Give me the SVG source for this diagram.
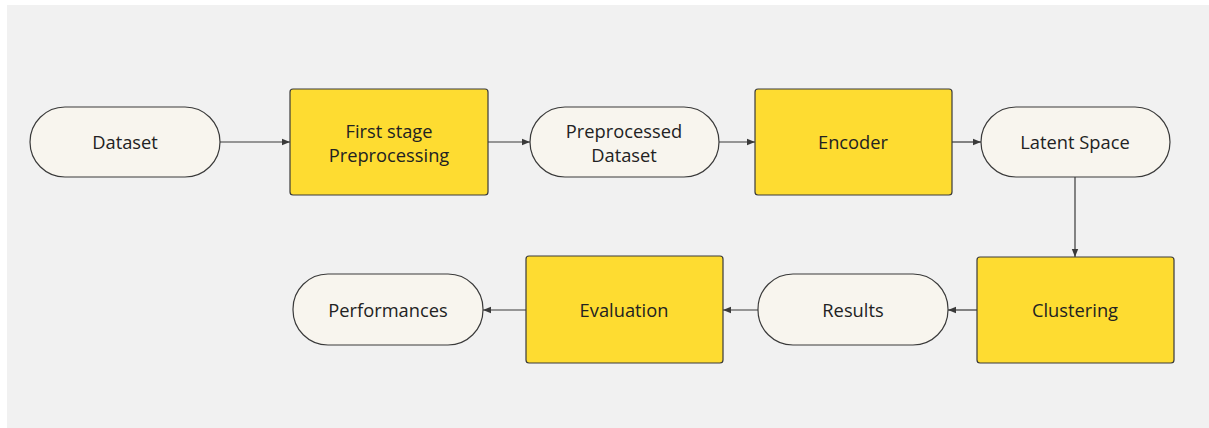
<svg xmlns="http://www.w3.org/2000/svg" width="1209" height="428" viewBox="0 0 1209 428">
<defs>
<style>
.pill{fill:#f8f5ee;stroke:#3a3a3a;stroke-width:1.2}
.box{fill:#fedc31;stroke:#3a3a3a;stroke-width:1.2}
.t{font-family:"Open Sans","Noto Sans",sans-serif;font-size:18.3px;fill:#222;text-anchor:middle;dominant-baseline:central}
.c{stroke:#3a3a3a;stroke-width:1.2;fill:none;marker-end:url(#ah)}
</style>
<marker id="ah" viewBox="0 0 8 8" refX="8" refY="4" markerWidth="8" markerHeight="8" markerUnits="userSpaceOnUse" orient="auto">
<path d="M0,0.8 L8,4 L0,7.2 Z" fill="#3a3a3a"/>
</marker>
</defs>
<rect x="7" y="5" width="1202" height="423" fill="#f1f1f1"/>
<g id="connectors">
<path class="c" d="M220,142 H290"/>
<path class="c" d="M488,142 H530"/>
<path class="c" d="M719,142 H755"/>
<path class="c" d="M952,142 H981"/>
<path class="c" d="M1075,177 V257"/>
<path class="c" d="M977,310 H948"/>
<path class="c" d="M758,310 H723"/>
<path class="c" d="M526,310 H483"/>
</g>
<g id="dataset"><rect class="pill" x="30" y="107" width="190" height="70" rx="35"/><text class="t" x="125" y="141">Dataset</text></g>
<g id="first-stage"><rect class="box" x="290" y="89" width="198" height="106" rx="3"/><text class="t" x="389" y="130">First stage</text><text class="t" x="389" y="154">Preprocessing</text></g>
<g id="preprocessed"><rect class="pill" x="530" y="107" width="189" height="70" rx="35"/><text class="t" x="624" y="130">Preprocessed</text><text class="t" x="624" y="154">Dataset</text></g>
<g id="encoder"><rect class="box" x="755" y="89" width="197" height="106" rx="3"/><text class="t" x="853" y="141">Encoder</text></g>
<g id="latent"><rect class="pill" x="981" y="107" width="189" height="70" rx="35"/><text class="t" x="1075" y="141">Latent Space</text></g>
<g id="clustering"><rect class="box" x="977" y="257" width="197" height="106" rx="3"/><text class="t" x="1075" y="309">Clustering</text></g>
<g id="results"><rect class="pill" x="758" y="274" width="190" height="71" rx="35"/><text class="t" x="853" y="309">Results</text></g>
<g id="evaluation"><rect class="box" x="526" y="256" width="197" height="107" rx="3"/><text class="t" x="624" y="309">Evaluation</text></g>
<g id="performances"><rect class="pill" x="293" y="274" width="190" height="71" rx="35"/><text class="t" x="388" y="309">Performances</text></g>
</svg>
